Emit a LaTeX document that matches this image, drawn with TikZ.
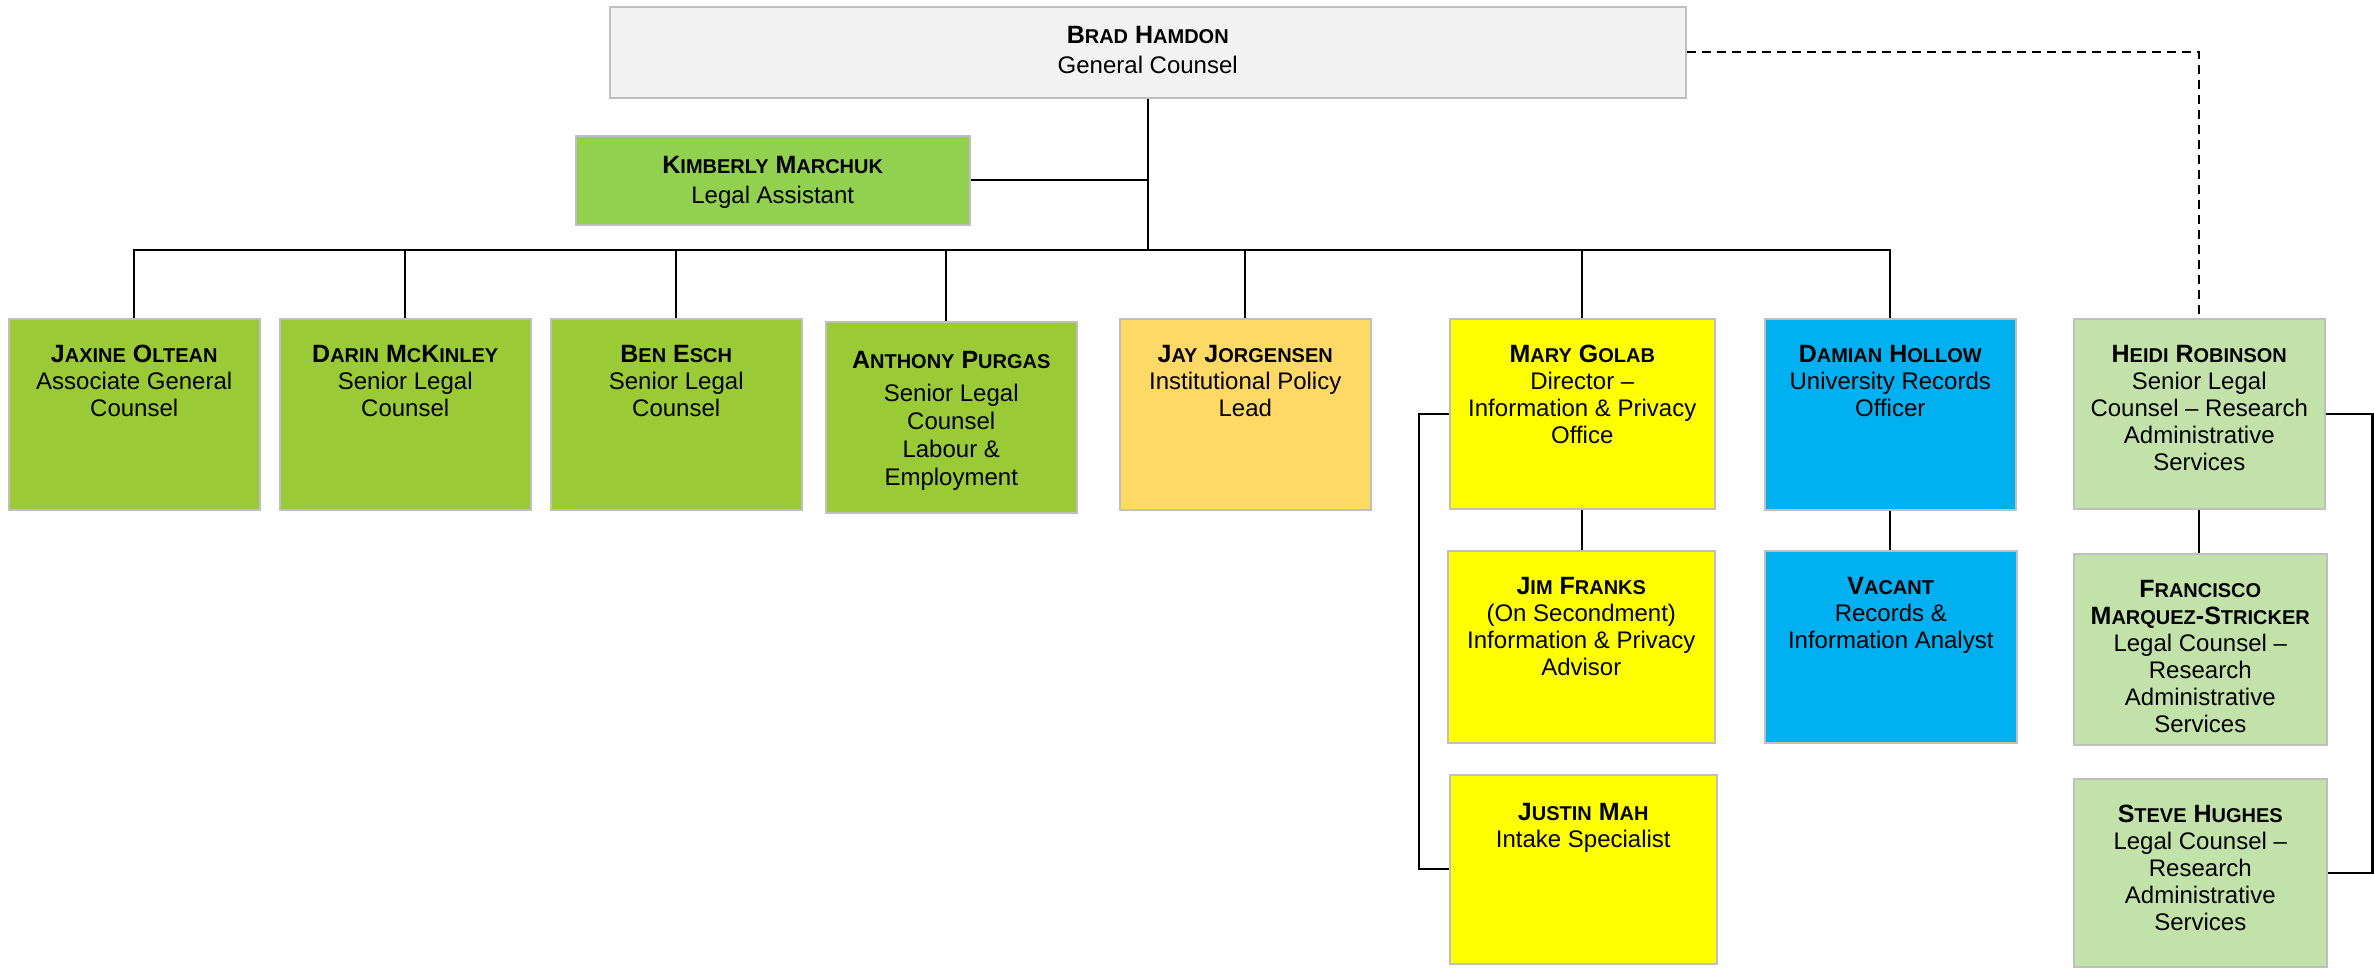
\documentclass[tikz,border=0pt]{standalone}
\usepackage{fontspec}
\setmainfont{Liberation Sans}
\definecolor{gcbg}{HTML}{F2F2F2}
\definecolor{kimg}{HTML}{92D050}
\definecolor{leg}{HTML}{9ACB36}
\definecolor{pol}{HTML}{FFD966}
\definecolor{ipo}{HTML}{FFFF00}
\definecolor{rec}{HTML}{00B0F0}
\definecolor{res}{HTML}{C3E2AA}
\newcommand\sm[1]{{\fontsize{20}{27}\selectfont #1}}
\newcommand\nm[1]{{\fontsize{25}{27}\selectfont\bfseries #1}}
\tikzset{
  box/.style={draw=black!25, line width=1.5pt, anchor=north west, inner sep=0pt},
  txt/.style={anchor=north, align=center, inner sep=0pt, font=\fontsize{24}{27}\selectfont},
  txtw/.style={anchor=north, align=center, inner sep=0pt, font=\fontsize{24}{30}\selectfont},
  link/.style={line width=2.2pt, black},
}
\begin{document}
\begin{tikzpicture}[x=1pt,y=-1pt]
\useasboundingbox (0,0) rectangle (2374,972);
% boxes
\node[box, fill=gcbg, minimum width=1076pt, minimum height=91pt] (brad) at (609,6) {};
\node[box, fill=kimg, minimum width=394pt, minimum height=89pt] (kim) at (575,135) {};
\node[box, fill=leg, minimum width=251pt, minimum height=191pt] (jax) at (8,318) {};
\node[box, fill=leg, minimum width=251pt, minimum height=191pt] (darin) at (279,318) {};
\node[box, fill=leg, minimum width=251pt, minimum height=191pt] (ben) at (550,318) {};
\node[box, fill=leg, minimum width=251pt, minimum height=191pt] (anth) at (825,321) {};
\node[box, fill=pol, minimum width=251pt, minimum height=191pt] (jay) at (1119,318) {};
\node[box, fill=ipo, minimum width=265pt, minimum height=190pt] (mary) at (1449,318) {};
\node[box, fill=rec, minimum width=251pt, minimum height=191pt] (dam) at (1764,318) {};
\node[box, fill=res, minimum width=251pt, minimum height=190pt] (heidi) at (2073,318) {};
\node[box, fill=ipo, minimum width=267pt, minimum height=192pt] (jim) at (1447,550) {};
\node[box, fill=rec, minimum width=252pt, minimum height=192pt] (vac) at (1764,550) {};
\node[box, fill=res, minimum width=253pt, minimum height=191pt] (fran) at (2073,553) {};
\node[box, fill=ipo, minimum width=267pt, minimum height=189pt] (justin) at (1449,774) {};
\node[box, fill=res, minimum width=253pt, minimum height=188pt] (steve) at (2073,778) {};
% texts
\node[txtw] (bradT) at ([yshift=-20pt]brad.north) {\nm{B\sm{RAD} H\sm{AMDON}}\\General Counsel};
\node[txtw] (kimT) at ([yshift=-21pt]kim.north) {\nm{K\sm{IMBERLY} M\sm{ARCHUK}}\\Legal Assistant};
\node[txt] (jaxT) at ([yshift=-27pt]jax.north) {\nm{J\sm{AXINE} O\sm{LTEAN}}\\Associate General\\Counsel};
\node[txt] (darinT) at ([yshift=-27pt]darin.north) {\nm{D\sm{ARIN} M\sm{C}K\sm{INLEY}}\\Senior Legal\\Counsel};
\node[txt] (benT) at ([yshift=-27pt]ben.north) {\nm{B\sm{EN} E\sm{SCH}}\\Senior Legal\\Counsel};
\node[txt, font=\fontsize{24}{28}\selectfont] (anthT) at ([yshift=-30pt]anth.north) {\nm{A\sm{NTHONY} P\sm{URGAS}}\\[5pt]Senior Legal\\Counsel\\Labour \&\\Employment};
\node[txt] (jayT) at ([yshift=-27pt]jay.north) {\nm{J\sm{AY} J\sm{ORGENSEN}}\\Institutional Policy\\Lead};
\node[txt] (maryT) at ([yshift=-27pt]mary.north) {\nm{M\sm{ARY} G\sm{OLAB}}\\Director –\\Information \& Privacy\\Office};
\node[txt] (damT) at ([yshift=-27pt]dam.north) {\nm{D\sm{AMIAN} H\sm{OLLOW}}\\University Records\\Officer};
\node[txt] (heidiT) at ([yshift=-27pt]heidi.north) {\nm{H\sm{EIDI} R\sm{OBINSON}}\\Senior Legal\\Counsel – Research\\Administrative\\Services};
\node[txt] (jimT) at ([yshift=-27pt]jim.north) {\nm{J\sm{IM} F\sm{RANKS}}\\(On Secondment)\\Information \& Privacy\\Advisor};
\node[txt] (vacT) at ([yshift=-27pt]vac.north) {\nm{V\sm{ACANT}}\\Records \&\\Information Analyst};
\node[txt] (franT) at ([yshift=-27pt]fran.north) {\nm{F\sm{RANCISCO}}\\\nm{M\sm{ARQUEZ}-S\sm{TRICKER}}\\Legal Counsel –\\Research\\Administrative\\Services};
\node[txt] (justinT) at ([yshift=-29pt]justin.north) {\nm{J\sm{USTIN} M\sm{AH}}\\Intake Specialist};
\node[txt] (steveT) at ([yshift=-27pt]steve.north) {\nm{S\sm{TEVE} H\sm{UGHES}}\\Legal Counsel –\\Research\\Administrative\\Services};
% connectors
\coordinate (bar) at (brad.south |- 0,250);
\coordinate (anthTop) at (946,321);
\draw[link] (brad.south) -- (bar);
\draw[link] (kim.east) -- (brad.south |- kim.east);
\foreach \n in {jax,darin,ben,anthTop,jay,mary,dam}{
  \draw[link] (bar) -| (\n);
}
\draw[link] (mary.south) -- (mary.south |- jim.north);
\draw[link] (dam.south) -- (dam.south |- vac.north);
\draw[link] (heidi.south) -- (heidi.south |- fran.north);
\draw[link] (mary.west) -- ++(-30,0) |- (justin.west);
\draw[link] (heidi.east) -- ++(47,0) |- (steve.east);
\draw[link, dash pattern=on 9pt off 6pt] (brad.east) -| (heidi.north);
\end{tikzpicture}
\end{document}
